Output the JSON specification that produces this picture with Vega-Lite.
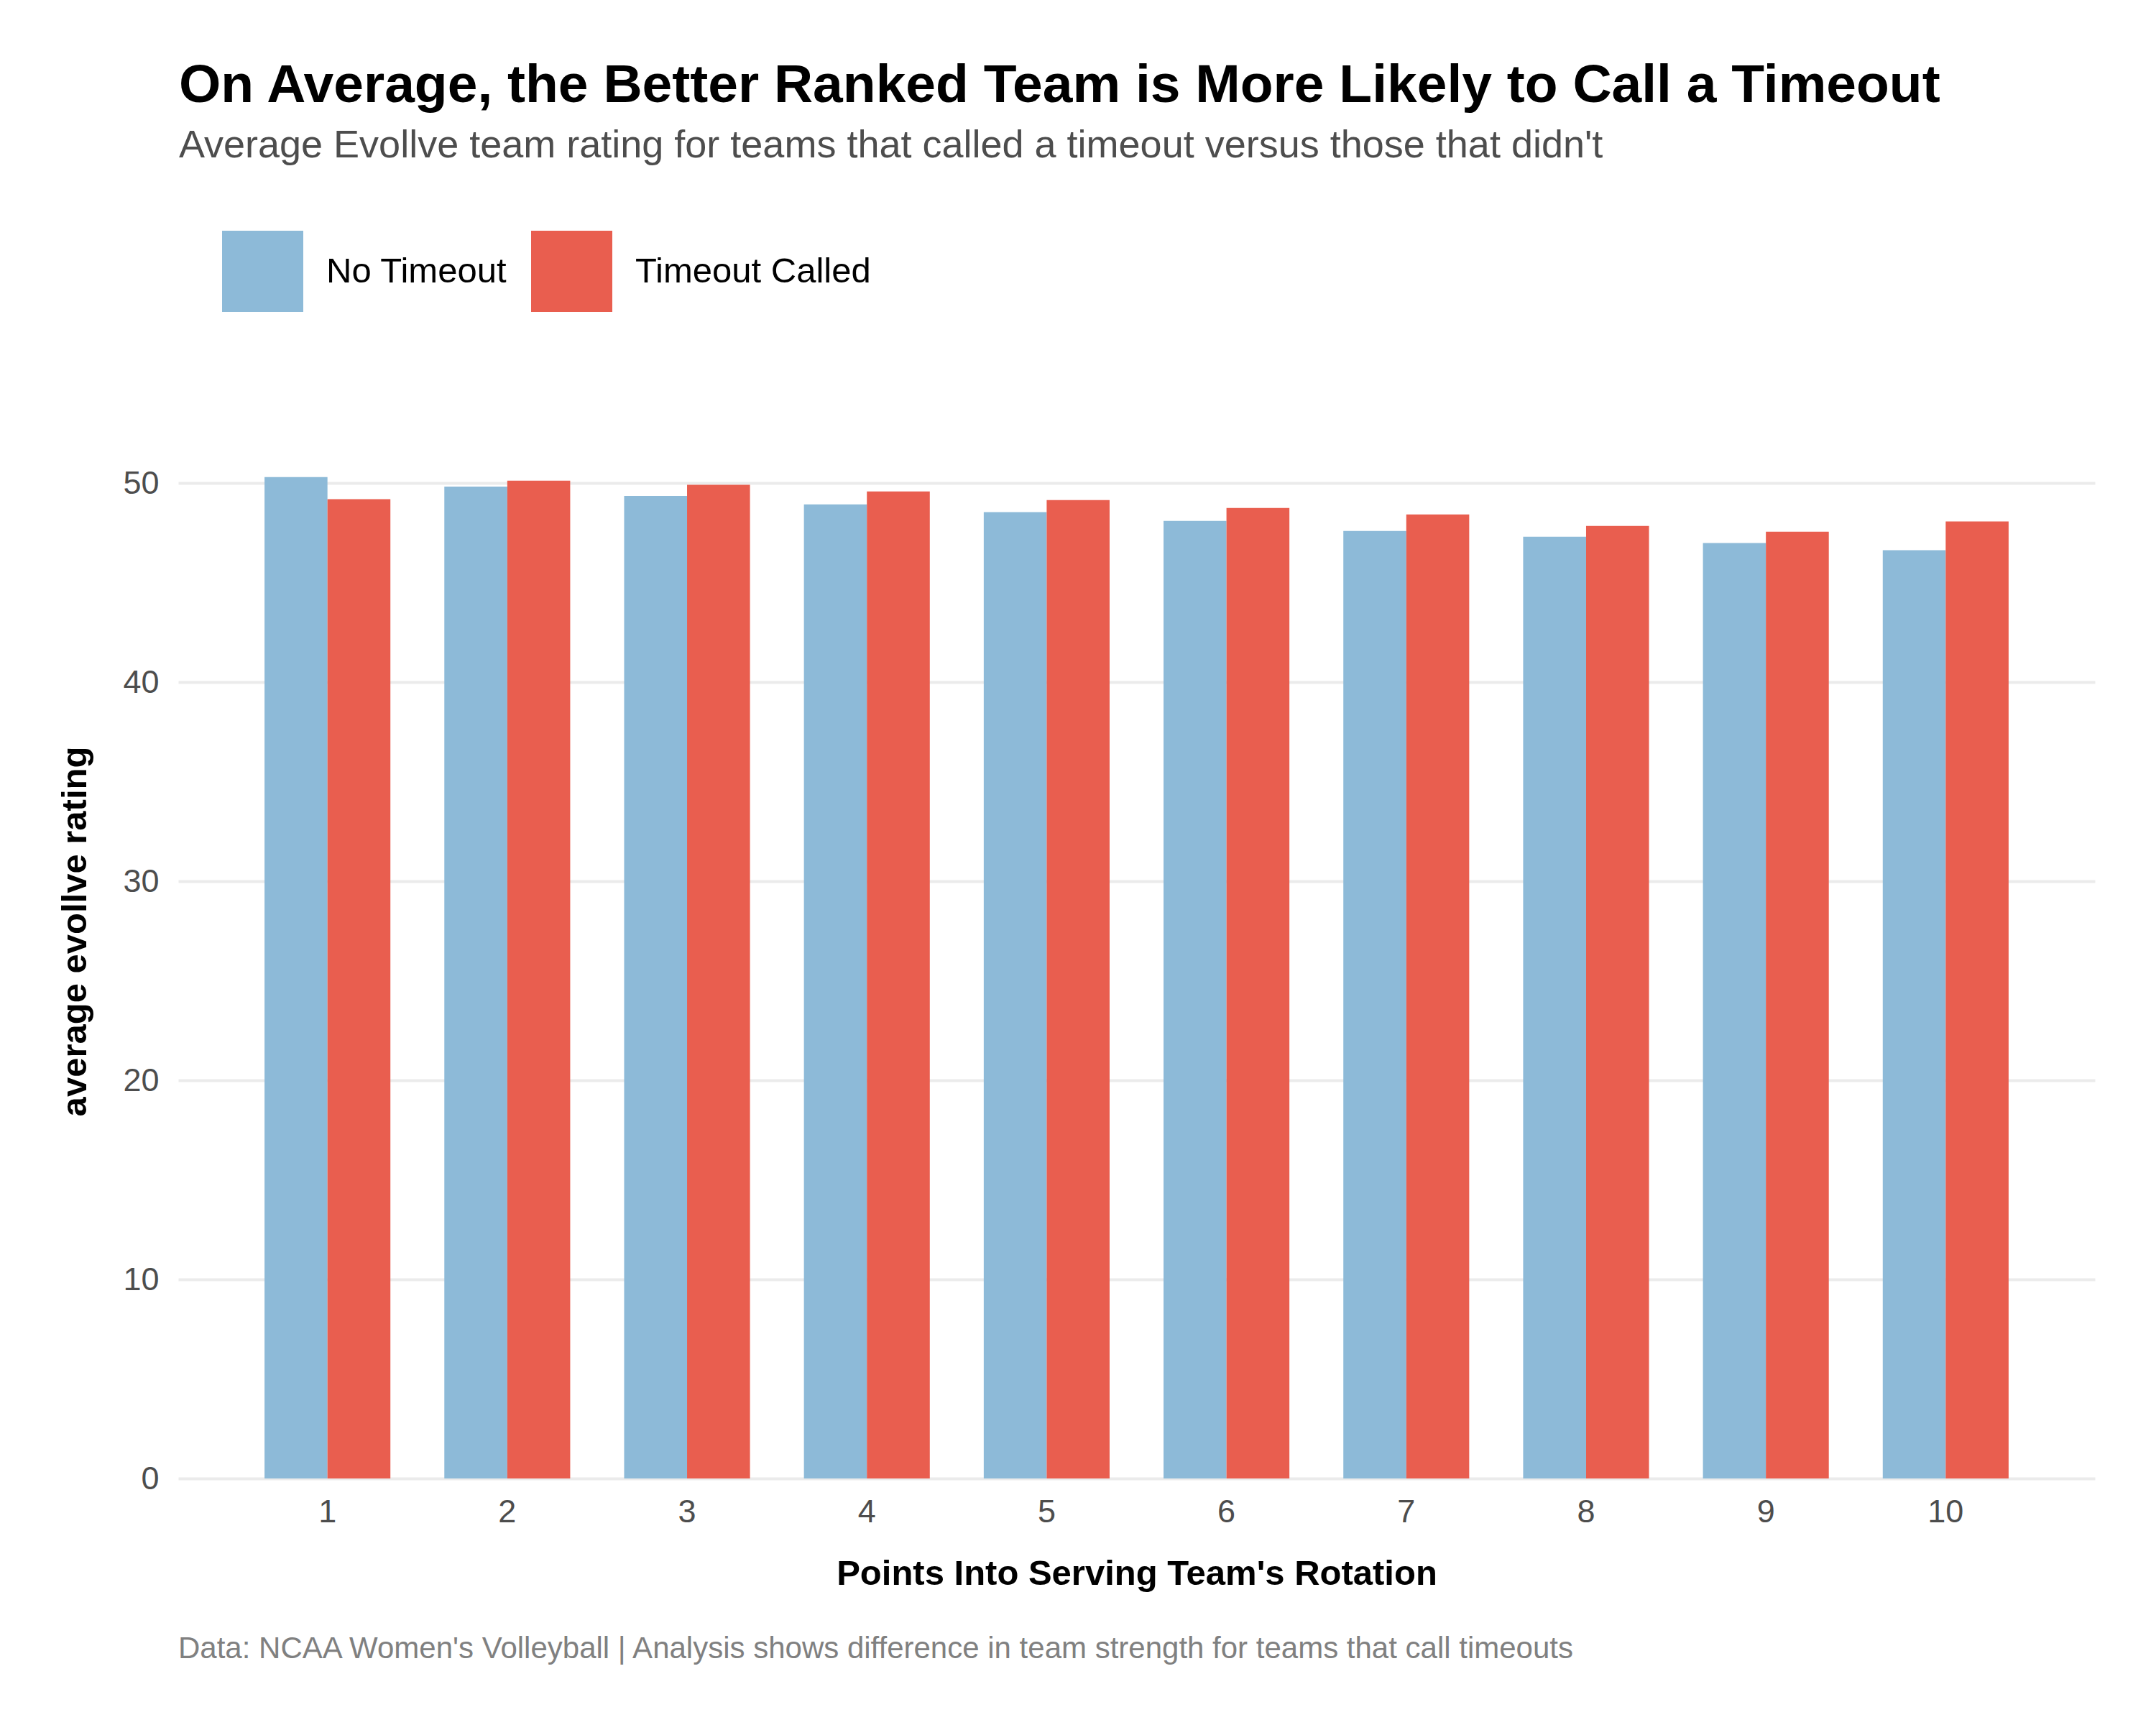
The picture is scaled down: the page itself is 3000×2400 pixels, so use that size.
{
  "$schema": "https://vega.github.io/schema/vega-lite/v6.json",
  "background": "white",
  "padding": {"left": 80, "top": 82, "right": 5, "bottom": 5},
  "title": {
    "text": "On Average, the Better Ranked Team is More Likely to Call a Timeout",
    "subtitle": "Average Evollve team rating for teams that called a timeout versus those that didn't",
    "anchor": "start",
    "frame": "bounds",
    "dx": 168,
    "font": "Liberation Sans",
    "fontSize": 75,
    "fontWeight": "bold",
    "color": "#000000",
    "subtitleFont": "Liberation Sans",
    "subtitleFontSize": 54,
    "subtitleColor": "#4D4D4D",
    "subtitlePadding": 18,
    "offset": 90
  },
  "resolve": {"scale": {"color": "independent"}},
  "vconcat": [
    {
      "width": 2667,
      "height": 1523,
      "title": {
        "text": "Data: NCAA Women's Volleyball | Analysis shows difference in team strength for teams that call timeouts",
        "orient": "bottom",
        "anchor": "start",
        "frame": "group",
        "font": "Liberation Sans",
        "fontSize": 42,
        "fontWeight": "normal",
        "color": "#808080",
        "offset": 60
      },
      "data": {
        "values": [
          {"point": 1, "status": "No Timeout", "rating": 50.31},
          {"point": 1, "status": "Timeout Called", "rating": 49.20},
          {"point": 2, "status": "No Timeout", "rating": 49.84},
          {"point": 2, "status": "Timeout Called", "rating": 50.13},
          {"point": 3, "status": "No Timeout", "rating": 49.37},
          {"point": 3, "status": "Timeout Called", "rating": 49.93},
          {"point": 4, "status": "No Timeout", "rating": 48.94},
          {"point": 4, "status": "Timeout Called", "rating": 49.59},
          {"point": 5, "status": "No Timeout", "rating": 48.55},
          {"point": 5, "status": "Timeout Called", "rating": 49.16},
          {"point": 6, "status": "No Timeout", "rating": 48.11},
          {"point": 6, "status": "Timeout Called", "rating": 48.76},
          {"point": 7, "status": "No Timeout", "rating": 47.61},
          {"point": 7, "status": "Timeout Called", "rating": 48.44},
          {"point": 8, "status": "No Timeout", "rating": 47.32},
          {"point": 8, "status": "Timeout Called", "rating": 47.86},
          {"point": 9, "status": "No Timeout", "rating": 47.00},
          {"point": 9, "status": "Timeout Called", "rating": 47.57},
          {"point": 10, "status": "No Timeout", "rating": 46.64},
          {"point": 10, "status": "Timeout Called", "rating": 48.08}
        ]
      },
      "mark": {"type": "bar"},
      "encoding": {
        "x": {
          "field": "point",
          "type": "ordinal",
          "scale": {"paddingInner": 0.3, "paddingOuter": 0.48},
          "axis": {
            "title": "Points Into Serving Team's Rotation",
            "labelAngle": 0,
            "domain": false,
            "ticks": false,
            "tickSize": 0,
            "grid": false,
            "labelFont": "Liberation Sans",
            "labelFontSize": 45,
            "labelColor": "#4D4D4D",
            "labelPadding": 24,
            "titleFont": "Liberation Sans",
            "titleFontSize": 49,
            "titleFontWeight": "bold",
            "titleColor": "#000000",
            "titlePadding": 39
          }
        },
        "xOffset": {
          "field": "status",
          "type": "nominal",
          "sort": ["No Timeout", "Timeout Called"],
          "scale": {"paddingInner": 0, "paddingOuter": 0}
        },
        "y": {
          "field": "rating",
          "type": "quantitative",
          "scale": {"domain": [0, 55], "nice": false, "zero": true},
          "axis": {
            "title": "average evollve rating",
            "values": [0, 10, 20, 30, 40, 50],
            "grid": true,
            "gridColor": "#EBEBEB",
            "gridWidth": 4,
            "domain": false,
            "ticks": false,
            "tickSize": 0,
            "labelFont": "Liberation Sans",
            "labelFontSize": 45,
            "labelColor": "#4D4D4D",
            "labelPadding": 27,
            "titleFont": "Liberation Sans",
            "titleFontSize": 49,
            "titleFontWeight": "bold",
            "titleColor": "#000000",
            "titlePadding": 41
          }
        },
        "color": {
          "field": "status",
          "type": "nominal",
          "sort": ["No Timeout", "Timeout Called"],
          "scale": {"domain": ["No Timeout", "Timeout Called"], "range": ["#8DBAD8", "#E95E4F"]},
          "legend": {
            "title": null,
            "orient": "none",
            "legendX": 61,
            "legendY": -213,
            "direction": "horizontal",
            "symbolType": "square",
            "symbolSize": 12769,
            "symbolStrokeWidth": 0,
            "symbolOpacity": 1,
            "labelFont": "Liberation Sans",
            "labelFontSize": 49,
            "labelColor": "#000000",
            "labelOffset": 32,
            "labelLimit": 1000,
            "columnPadding": 33,
            "padding": 0
          }
        }
      }
    }
  ],
  "config": {
    "view": {"stroke": null},
    "bar": {"opacity": 1}
  }
}
